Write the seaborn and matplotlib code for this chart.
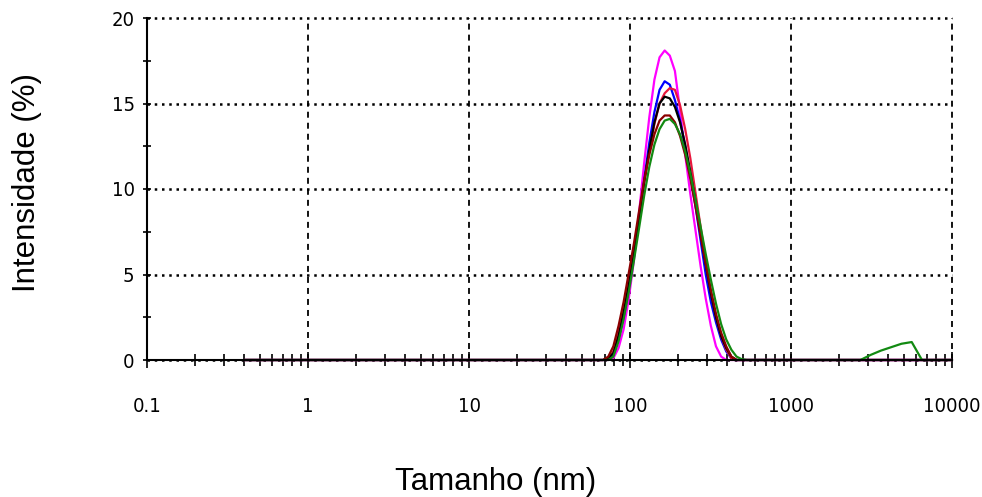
#!/usr/bin/env python3

import pandas as pd
import seaborn as sns
import matplotlib.pyplot as plt
from matplotlib.ticker import FixedLocator, NullFormatter

# size bins (nm) and intensity (%) per measurement
sizes = [0.4,
         68.1, 73.3, 78.8, 84.9, 91.3, 98.3, 105.7, 113.8, 122.4, 131.8,
         141.8, 152.6, 164.2, 176.7, 190.1, 204.6, 220.2, 237.0, 255.0, 274.4,
         295.3, 317.8, 342.0, 368.1, 396.1, 426.2, 458.7, 493.6, 531.2,
         2700, 3127, 3620, 4192, 4854, 5621, 6509, 10000]
magenta = [0,
           0, 0, 0.1, 0.7, 1.8, 3.6, 5.8, 8.6, 11.5, 14.2,
           16.4, 17.7, 18.1, 17.8, 16.9, 14.6, 12.0, 9.7, 7.6, 5.5,
           3.6, 2.0, 0.8, 0.2, 0, 0, 0, 0, 0,
           0, 0, 0, 0, 0, 0, 0, 0]
blue = [0,
        0, 0.05, 0.3, 1.2, 2.5, 4.2, 6.0, 8.2, 10.5, 12.7,
        14.5, 15.8, 16.3, 16.1, 15.2, 14.0, 12.5, 10.8, 9.0, 7.0,
        5.0, 3.4, 2.2, 1.2, 0.5, 0.1, 0, 0, 0,
        0, 0, 0, 0, 0, 0, 0, 0]
red = [0,
       0, 0.1, 0.5, 1.6, 3.0, 4.6, 6.3, 8.3, 10.3, 12.2,
       13.8, 15.0, 15.6, 15.9, 15.8, 14.9, 13.5, 11.8, 9.8, 7.8,
       5.8, 4.0, 2.5, 1.4, 0.6, 0.1, 0, 0, 0,
       0, 0, 0, 0, 0, 0, 0, 0]
black = [0,
         0, 0.1, 0.4, 1.4, 2.8, 4.4, 6.2, 8.3, 10.4, 12.3,
         13.9, 15.0, 15.4, 15.3, 14.8, 13.9, 12.6, 11.0, 9.3, 7.4,
         5.6, 3.9, 2.5, 1.4, 0.7, 0.2, 0, 0, 0,
         0, 0, 0, 0, 0, 0, 0, 0]
darkred = [0,
           0, 0.2, 0.8, 2.0, 3.4, 5.1, 6.8, 8.7, 10.5, 12.0,
           13.2, 14.0, 14.3, 14.3, 13.9, 13.1, 12.0, 10.6, 9.0, 7.3,
           5.6, 4.1, 2.7, 1.6, 0.8, 0.2, 0, 0, 0,
           0, 0, 0, 0, 0, 0, 0, 0]
green = [0,
         0, 0, 0.2, 1.1, 2.4, 4.0, 5.8, 7.7, 9.6, 11.3,
         12.6, 13.5, 14.0, 14.1, 13.8, 13.2, 12.2, 10.9, 9.4, 7.8,
         6.2, 4.7, 3.3, 2.1, 1.2, 0.6, 0.2, 0.05, 0,
         0, 0.3, 0.55, 0.75, 0.95, 1.05, 0, 0]

series = {"A1": magenta, "A2": blue, "A3": red, "A4": black, "A5": darkred, "A6": green}
colors = {"A1": "#ff00ff", "A2": "#0000ff", "A3": "#e8173c", "A4": "#000000",
          "A5": "#8b0000", "A6": "#128a12"}

rows = []
for name, vals in series.items():
    for s, v in zip(sizes, vals):
        rows.append({"Tamanho": s, "Intensidade": v, "amostra": name})
df = pd.DataFrame(rows)

xticks = [0.1, 1, 10, 100, 1000, 10000]
xlabels = ["0.1", "1", "10", "100", "1000", "10000"]
yticks = [0, 5, 10, 15, 20]

sns.set_style("white")
plt.rcParams['font.family'] = ['Liberation Sans', 'DejaVu Sans']
plt.rcParams['text.color'] = 'black'
plt.rcParams['xtick.color'] = 'black'
plt.rcParams['ytick.color'] = 'black'

fig = plt.figure(figsize=(9.82, 4.97), dpi=100)
ax = fig.add_axes([147/982, 1 - 360/497, 805/982, 342/497])

sns.lineplot(data=df, x="Tamanho", y="Intensidade", hue="amostra",
             hue_order=list(series.keys()), palette=colors, estimator=None,
             lw=1.6, legend=False, ax=ax)
for ln in ax.get_lines():
    ln.set_clip_on(False)

ax.set_xscale('log')
ax.set_xlim(0.1, 10000)
ax.set_ylim(0, 20)
ax.set_xlabel("")
ax.set_ylabel("")

ax.set_xticks(xticks)
ax.set_xticklabels(xlabels)
minor_x = [m * d for d in [0.1, 1, 10, 100, 1000] for m in range(2, 10)]
ax.xaxis.set_minor_locator(FixedLocator(minor_x))
ax.xaxis.set_minor_formatter(NullFormatter())
ax.set_yticks(yticks)
ax.yaxis.set_minor_locator(FixedLocator([2.5, 7.5, 12.5, 17.5]))

ax.tick_params(axis='both', which='both', bottom=True, left=True, colors='black')
ax.tick_params(axis='x', which='major', direction='inout', length=12, width=1.2, pad=21)
ax.tick_params(axis='x', which='minor', direction='inout', length=9, width=1.2)
ax.tick_params(axis='y', which='major', direction='inout', length=6, width=1.2, pad=6)
ax.tick_params(axis='y', which='minor', direction='inout', length=6, width=1.2)

# tick numbers in a condensed face
for lab in ax.get_xticklabels() + ax.get_yticklabels():
    lab.set_family(['DejaVu Sans'])
    lab.set_fontstretch('condensed')
    lab.set_fontsize(14.5)

ax.xaxis.grid(True, which='major', color='black', linestyle=(0, (3.3, 2.8)), lw=1.3)
ax.yaxis.grid(True, which='major', color='black', linestyle=(0, (1, 1.9)), lw=1.8)
for gl in ax.get_xgridlines() + ax.get_ygridlines():
    gl.set_clip_on(False)

sns.despine(ax=ax, top=True, right=True)
for side in ['left', 'bottom']:
    ax.spines[side].set_linewidth(1.5)
    ax.spines[side].set_color('black')

fig.text(27/982, 1 - 182/497, "Intensidade (%)", rotation=90, ha='center', va='center',
         fontsize=22.5)
fig.text(496/982, 1 - 490/497, "Tamanho (nm)", ha='center', va='baseline', fontsize=22.5)

plt.savefig('out.png', dpi=100)
